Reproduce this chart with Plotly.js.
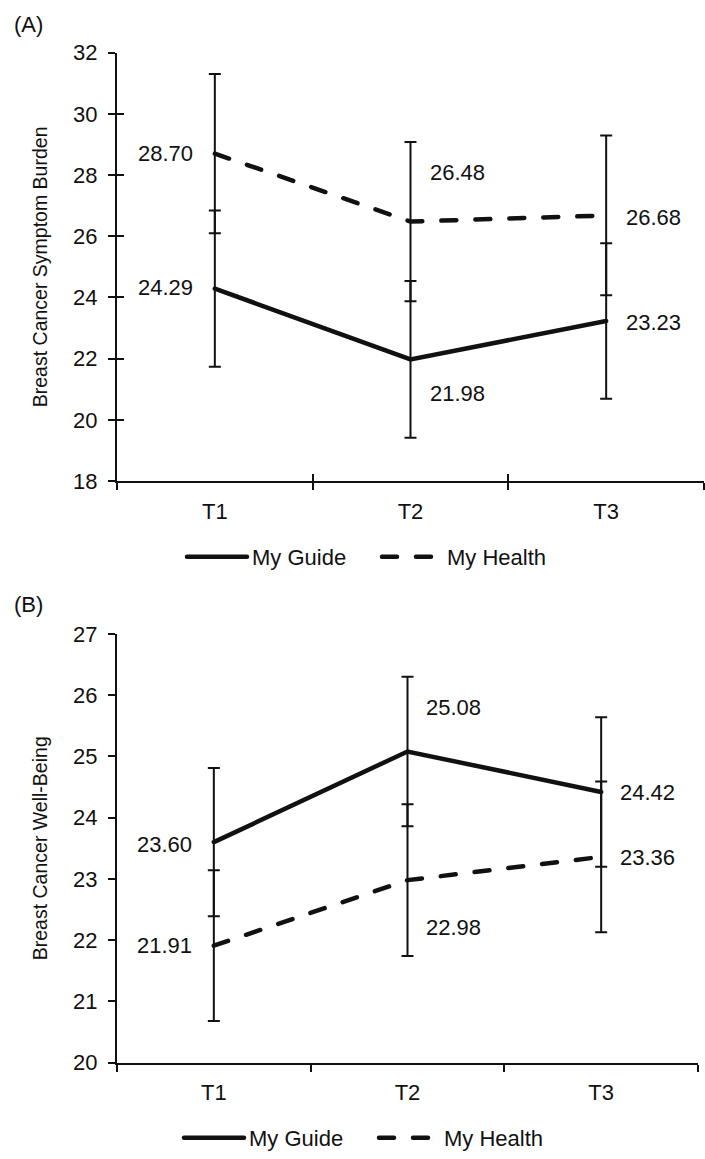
<!DOCTYPE html>
<html>
<head>
<meta charset="utf-8">
<script src="https://cdn.plot.ly/plotly-3.0.1.min.js"></script>
<style>
  html, body { margin: 0; padding: 0; background: #fff; }
  #chart { width: 705px; height: 1159px; }
  .js-line { stroke-linecap: round; }
  .legendlines path { stroke-linecap: round; }
</style>
</head>
<body>
<div id="chart"></div>
<script>
// ---- data ----
const timepoints = ["T1", "T2", "T3"];
const seriesNames = ["My Guide", "My Health"];

// Panel A: Breast Cancer Symptom Burden
const burdenGuide = [24.29, 21.98, 23.23];
const burdenHealth = [28.70, 26.48, 26.68];
const burdenGuideErr = [2.55, 2.56, 2.54];
const burdenHealthErr = [2.60, 2.60, 2.61];

// Panel B: Breast Cancer Well-Being
const wellGuide = [23.60, 25.08, 24.42];
const wellHealth = [21.91, 22.98, 23.36];
const wellGuideErr = [1.21, 1.22, 1.22];
const wellHealthErr = [1.23, 1.24, 1.23];

const yTitleA = "Breast Cancer Symptom Burden";
const yTitleB = "Breast Cancer Well-Being";
const panelLabels = ["(A)", "(B)"];

// ---- label placement (pixel offsets, style only) ----
const offGuideA = [{a:"right", dx:-20, dy:1}, {a:"left", dx:17, dy:-34}, {a:"left", dx:18, dy:-1}];
const offHealthA = [{a:"right", dx:-20, dy:0}, {a:"left", dx:17, dy:49}, {a:"left", dx:18, dy:-2}];
const offGuideB = [{a:"right", dx:-20, dy:-2}, {a:"left", dx:16, dy:44}, {a:"left", dx:17, dy:-1}];
const offHealthB = [{a:"right", dx:-20, dy:0}, {a:"left", dx:16, dy:-47}, {a:"left", dx:17, dy:-1}];

const FONT = "Liberation Sans, Arial, sans-serif";
const INK = "#111";

function lineTrace(y, err, name, dash, xa, ya, legend) {
  return {
    type: "scatter", mode: "lines", x: timepoints, y: y, name: name,
    xaxis: xa, yaxis: ya, legend: legend, showlegend: true,
    line: {color: INK, width: 4.5, dash: dash},
    error_y: {type: "data", array: err, visible: true, color: INK, thickness: 2, width: 6},
    hoverinfo: "skip"
  };
}

const DASH = "15px,19px";
// panel A traces also use overlay axes (x3 / y3) so the crossing (inside) tick marks get drawn
const data = [
  lineTrace(burdenGuide, burdenGuideErr, seriesNames[0], "solid", "x3", "y", "legend"),
  lineTrace(burdenHealth, burdenHealthErr, seriesNames[1], DASH, "x", "y3", "legend"),
  lineTrace(wellGuide, wellGuideErr, seriesNames[0], "solid", "x2", "y2", "legend2"),
  lineTrace(wellHealth, wellHealthErr, seriesNames[1], DASH, "x2", "y2", "legend2")
];

function labels(vals, offs, xref, yref) {
  return vals.map((v, i) => ({
    x: timepoints[i], y: v, xref: xref, yref: yref, text: v.toFixed(2),
    showarrow: false, xanchor: offs[i].a, yanchor: "middle",
    xshift: offs[i].dx, yshift: offs[i].dy,
    font: {family: FONT, size: 22, color: INK}
  }));
}

const annotations = [].concat(
  labels(burdenGuide, offGuideA, "x", "y"),
  labels(burdenHealth, offHealthA, "x", "y"),
  labels(wellGuide, offGuideB, "x2", "y2"),
  labels(wellHealth, offHealthB, "x2", "y2"),
  [
    {text: panelLabels[0], xref: "paper", yref: "paper", x: 12/705, y: 1 - 25/1159,
     xanchor: "left", yanchor: "middle", showarrow: false, font: {family: FONT, size: 22, color: INK}},
    {text: panelLabels[1], xref: "paper", yref: "paper", x: 12/705, y: 1 - 606/1159,
     xanchor: "left", yanchor: "middle", showarrow: false, font: {family: FONT, size: 22, color: INK}}
  ]
);

const tickFont = {family: FONT, size: 22, color: INK};

function xAxis(domain, anchor) {
  return {
    domain: domain, anchor: anchor, type: "category", range: [-0.5, 2.5],
    categoryorder: "array", categoryarray: timepoints,
    showline: true, linecolor: INK, linewidth: 2, showgrid: false, zeroline: false,
    ticks: "outside", tickson: "boundaries", ticklen: 7, tickwidth: 2, tickcolor: INK,
    tickfont: tickFont, ticklabelstandoff: 9, fixedrange: true
  };
}
function yAxis(domain, anchor, range, dtick, title) {
  return {
    domain: domain, anchor: anchor, range: range, dtick: dtick, tick0: 0,
    showline: true, linecolor: INK, linewidth: 2, showgrid: false, zeroline: false,
    ticks: "outside", ticklen: 7, tickwidth: 2, tickcolor: INK,
    tickfont: tickFont, ticklabelstandoff: 6, fixedrange: true,
    title: {text: title, font: {family: FONT, size: 19.5, color: INK}, standoff: 20}
  };
}

const layout = {
  width: 705, height: 1159,
  margin: {l: 0, r: 0, t: 0, b: 0},
  paper_bgcolor: "#fff", plot_bgcolor: "rgba(0,0,0,0)",
  showlegend: true,
  xaxis: xAxis([117/705, 704/705], "y"),
  yaxis: yAxis([1 - 482/1159, 1 - 52.7/1159], "x", [18, 32], 2, yTitleA),
  xaxis2: xAxis([117/705, 698/705], "y2"),
  yaxis2: yAxis([1 - 1064.5/1159, 1 - 635/1159], "x2", [20, 27], 1, yTitleB),
  // inside ticks for panel A (crossing tick marks)
  xaxis3: {overlaying: "x", anchor: "y", type: "category", range: [-0.5, 2.5], side: "bottom",
    categoryorder: "array", categoryarray: timepoints,
    showline: false, showgrid: false, zeroline: false, showticklabels: false,
    ticks: "inside", tickson: "boundaries", ticklen: 7, tickwidth: 2, tickcolor: INK, fixedrange: true},
  yaxis3: {overlaying: "y", anchor: "x", range: [18, 32], dtick: 2, tick0: 0, side: "left",
    showline: false, showgrid: false, zeroline: false, showticklabels: false,
    ticks: "inside", ticklen: 7, tickwidth: 2, tickcolor: INK, fixedrange: true},
  legend: {orientation: "h", x: 182/705, y: 1 - 558/1159, xanchor: "left", yanchor: "middle",
    font: {family: FONT, size: 22, color: INK}, bgcolor: "rgba(0,0,0,0)", borderwidth: 0,
    entrywidth: 120, entrywidthmode: "pixels", itemwidth: 60, traceorder: "normal"},
  legend2: {orientation: "h", x: 179/705, y: 1 - 1140/1159, xanchor: "left", yanchor: "middle",
    font: {family: FONT, size: 22, color: INK}, bgcolor: "rgba(0,0,0,0)", borderwidth: 0,
    entrywidth: 120, entrywidthmode: "pixels", itemwidth: 60, traceorder: "normal"},
  annotations: annotations
};

Plotly.newPlot("chart", data, layout, {staticPlot: true, displayModeBar: false});
</script>
</body>
</html>
